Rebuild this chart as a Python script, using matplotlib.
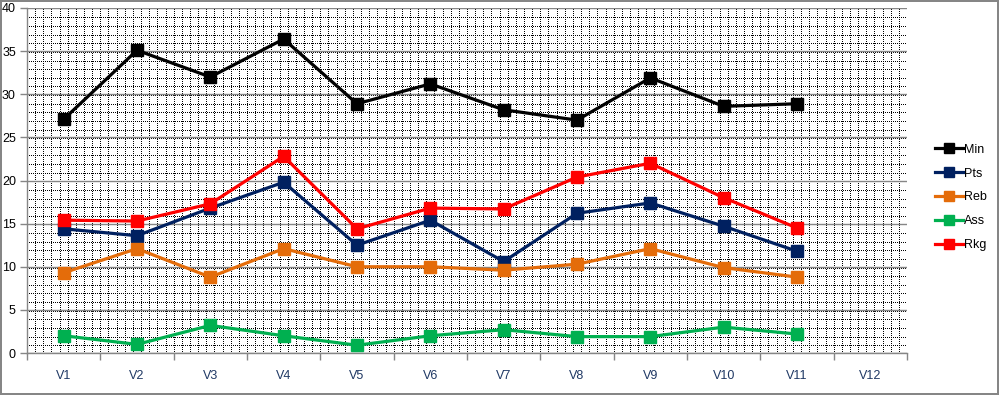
import matplotlib.pyplot as plt
import numpy as np

categories = ['V1', 'V2', 'V3', 'V4', 'V5', 'V6', 'V7', 'V8', 'V9', 'V10', 'V11', 'V12']

minutes = [27.1, 35.1, 32.0, 36.4, 28.9, 31.2, 28.2, 27.0, 31.9, 28.6, 28.9]
points = [14.4, 13.6, 16.8, 19.8, 12.5, 15.4, 10.6, 16.2, 17.4, 14.7, 11.8]
rebounds = [9.3, 12.1, 8.8, 12.1, 10.0, 10.0, 9.6, 10.3, 12.1, 9.9, 8.8]
assists = [2.0, 1.0, 3.2, 2.0, 0.9, 2.0, 2.7, 1.9, 1.9, 3.0, 2.2]
ranking = [15.4, 15.3, 17.3, 22.8, 14.4, 16.8, 16.7, 20.4, 22.0, 18.0, 14.5]

series = [
    ('Min', minutes, '#000000'),
    ('Pts', points, '#002060'),
    ('Reb', rebounds, '#E46C0A'),
    ('Ass', assists, '#00B050'),
    ('Rkg', ranking, '#FF0000'),
]

plt.rcParams['font.family'] = ['Liberation Sans', 'DejaVu Sans']

fig = plt.figure(figsize=(9.99, 3.95), dpi=100)
fig.patch.set_edgecolor('#868686')
fig.patch.set_linewidth(1.5)

ax = fig.add_axes([27 / 999, 42 / 395, 880 / 999, 345 / 395])
n = len(categories)
ax.set_xlim(-0.5, n - 0.5)
ax.set_ylim(0, 40)

# dotted pattern fill of the plot area (crisp 1px dots)
for yy in np.arange(1, 40, 1):
    ax.axhline(yy - 0.1, color='black', lw=0.72, ls=(0, (1, 1.5)),
               antialiased=False, zorder=0.5)
for xx in np.arange(-0.5 + 1 / 9, n - 0.5, 1 / 9):
    ax.axvline(xx, color='black', lw=0.72, ls=(0, (1, 1.5)),
               antialiased=False, zorder=0.5)

# major horizontal gridlines
ax.set_yticks(range(0, 41, 5))
ax.yaxis.grid(True, color='#868686', lw=1.0, zorder=1)
ax.set_axisbelow(True)

x = np.arange(len(minutes))
for name, vals, col in series:
    ax.plot(x, vals, color=col, lw=2.3, marker='s', markersize=8.5,
            label=name, zorder=3)

ax.set_xticks(range(n))
ax.set_xticklabels(categories)
ax.set_xticks(np.arange(-0.5, n, 1), minor=True)
ax.tick_params(axis='x', which='major', length=0, pad=12, labelsize=9, colors='#1F3864')
ax.tick_params(axis='x', which='minor', length=5, color='#868686', width=1.0)
ax.tick_params(axis='y', length=5, color='#868686', width=1.0, labelsize=9, pad=3)

for s in ['top', 'right']:
    ax.spines[s].set_visible(False)
for s in ['left', 'bottom']:
    ax.spines[s].set_color('#868686')
    ax.spines[s].set_linewidth(1.0)

leg = fig.legend(loc='center left', bbox_to_anchor=(0.925, 0.50), frameon=False,
                 fontsize=9, handlelength=2.2, handletextpad=0.1,
                 labelspacing=0.95, markerscale=0.85)

fig.savefig('out.png', dpi=100, facecolor='white', edgecolor=fig.get_edgecolor())
